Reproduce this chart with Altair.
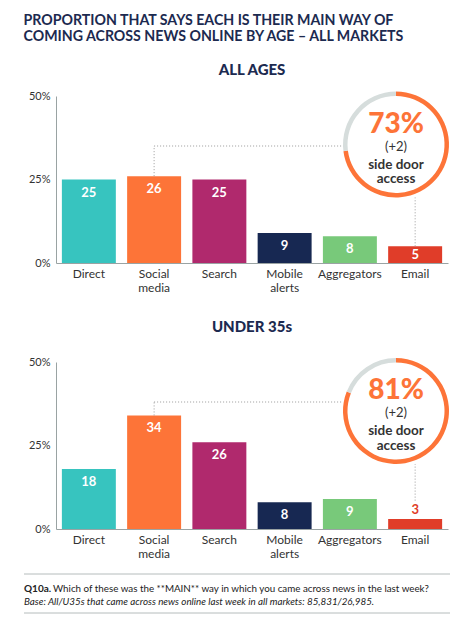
import altair as alt
import pandas as pd

# ---------------- data ----------------
categories = ["Direct", "Social media", "Search", "Mobile alerts", "Aggregators", "Email"]
all_ages = [25, 26, 25, 9, 8, 5]
under_35s = [18, 34, 26, 8, 9, 3]
panel_titles = ["ALL AGES", "UNDER 35s"]
side_door_share = [73, 81]
side_door_change = ["(+2)", "(+2)"]
side_door_text = ["side door", "access"]
y_ticks = [0, 25, 50]
title_lines = ["PROPORTION THAT SAYS EACH IS THEIR MAIN WAY OF",
               "COMING ACROSS NEWS ONLINE BY AGE \u2013 ALL MARKETS"]
footer_bold = "Q10a."
footer_line1 = "Which of these was the **MAIN** way in which you came across news in the last week?"
footer_line2 = "Base: All/U35s that came across news online last week in all markets: 85,831/26,985."

# ---------------- style ----------------
FONT = "Lato"
NAVY = "#1c2a50"
ORANGE = "#fd7438"
RING_GREY = "#d6dddc"
TEXT_GREY = "#333333"
DOT_GREY = "#9a9a9a"
bar_colors = ["#37c4bf", "#fd7438", "#b0296d", "#172852", "#78c97a", "#e03d29"]

W, H = 392, 167
CX, R = 340, 53


def panel(values, share, change, title, cy, conn_y, title_offset, with_footer=False):
    df = pd.DataFrame({"cat": categories, "value": values})
    base = alt.Chart(df)
    x = alt.X("cat:N", sort=categories,
              scale=alt.Scale(paddingInner=0.173, paddingOuter=0.09),
              axis=alt.Axis(title=None, labelAngle=0, ticks=False, domainColor="#9aa3a3",
                            labelFont=FONT, labelFontSize=12, labelColor=TEXT_GREY,
                            labelPadding=5, labelLineHeight=14,
                            labelExpr="split(datum.value, ' ')"))
    y = alt.Y("value:Q", scale=alt.Scale(domain=[0, 50], nice=False),
              axis=alt.Axis(title=None, values=y_ticks, ticks=False, grid=False,
                            domainColor="#9aa3a3", labelFont=FONT, labelFontSize=11,
                            labelColor=TEXT_GREY, labelPadding=6,
                            labelExpr="datum.value + '%'"))
    bars = base.mark_bar().encode(
        x=x, y=y,
        color=alt.Color("cat:N", sort=categories,
                        scale=alt.Scale(domain=categories, range=bar_colors), legend=None))
    labels = base.transform_calculate(
        ypos="datum.value >= 4 ? datum.value - min(3.9, datum.value / 2) : datum.value + 2.8"
    ).mark_text(font=FONT, fontSize=13, fontWeight="bold", baseline="middle").encode(
        x=alt.X("cat:N", sort=categories),
        y=alt.Y("ypos:Q"),
        text="value:Q",
        color=alt.condition("datum.value >= 4", alt.value("white"), alt.value("#e03d29")))

    # connectors
    social = base.transform_filter("datum.cat == 'Social media'")
    v_social = social.mark_rule(strokeDash=[1, 2], color=DOT_GREY, strokeWidth=1).encode(
        x=alt.X("cat:N", sort=categories), y="value:Q", y2=alt.value(conn_y))
    h_social = social.mark_rule(strokeDash=[1, 2], color=DOT_GREY, strokeWidth=1).encode(
        x=alt.X("cat:N", sort=categories), x2=alt.value(CX - R), y=alt.value(conn_y))
    email = base.transform_filter("datum.cat == 'Email'").transform_calculate(
        end="datum.value >= 4 ? datum.value : datum.value + 5.5")
    v_email = email.mark_rule(strokeDash=[1, 2], color=DOT_GREY, strokeWidth=1).encode(
        x=alt.X("cat:N", sort=categories), y="end:Q", y2=alt.value(cy + R))

    # ring
    ring_df = pd.DataFrame({"part": ["side", "rest"], "v": [share, 100 - share], "k": [0, 1]})
    ring = alt.Chart(ring_df).mark_arc(radius=R, radius2=R - 4.5).encode(
        theta=alt.Theta("v:Q", stack=True),
        order=alt.Order("k:Q"),
        color=alt.condition("datum.part == 'side'", alt.value(ORANGE), alt.value(RING_GREY)),
        x=alt.value(CX), y=alt.value(cy))
    big = alt.Chart(pd.DataFrame({"t": [f"{share}%"]})).mark_text(
        font=FONT, fontSize=28, fontWeight=900, color=ORANGE, baseline="middle").encode(
        text="t:N", x=alt.value(CX), y=alt.value(cy - 20))
    chg = alt.Chart(pd.DataFrame({"t": [change]})).mark_text(
        font=FONT, fontSize=13, color=TEXT_GREY, baseline="middle").encode(
        text="t:N", x=alt.value(CX), y=alt.value(cy + 2))
    sd1 = alt.Chart(pd.DataFrame({"t": [side_door_text[0]]})).mark_text(
        font=FONT, fontSize=13.5, fontWeight="bold", color=TEXT_GREY, baseline="middle").encode(
        text="t:N", x=alt.value(CX), y=alt.value(cy + 20))
    sd2 = alt.Chart(pd.DataFrame({"t": [side_door_text[1]]})).mark_text(
        font=FONT, fontSize=13.5, fontWeight="bold", color=TEXT_GREY, baseline="middle").encode(
        text="t:N", x=alt.value(CX), y=alt.value(cy + 34.5))

    layers = [bars, labels, v_social, h_social, v_email, ring, big, chg, sd1, sd2]

    if with_footer:
        rule_df = pd.DataFrame({"r": [0]})
        top_rule = alt.Chart(rule_df).mark_rule(color="#b5bcbc", strokeWidth=1).encode(
            x=alt.value(-32), x2=alt.value(394), y=alt.value(212))
        bot_rule = alt.Chart(rule_df).mark_rule(color="#b5bcbc", strokeWidth=1).encode(
            x=alt.value(-32), x2=alt.value(394), y=alt.value(251))
        fb = alt.Chart(pd.DataFrame({"t": [footer_bold]})).mark_text(
            font=FONT, fontSize=10, fontWeight="bold", color="#222222", align="left",
            baseline="middle").encode(text="t:N", x=alt.value(-32), y=alt.value(227))
        f1 = alt.Chart(pd.DataFrame({"t": [footer_line1]})).mark_text(
            font=FONT, fontSize=9.8, color="#222222", align="left",
            baseline="middle").encode(text="t:N", x=alt.value(-3), y=alt.value(227))
        f2 = alt.Chart(pd.DataFrame({"t": [footer_line2]})).mark_text(
            font=FONT, fontSize=9.8, fontStyle="italic", color="#222222", align="left",
            baseline="middle").encode(text="t:N", x=alt.value(-32), y=alt.value(240))
        layers += [top_rule, bot_rule, fb, f1, f2]

    return alt.layer(*layers).properties(
        width=W, height=H,
        title=alt.TitleParams(title, font=FONT, fontSize=15, fontWeight=900, color=NAVY,
                              anchor="middle", offset=title_offset))


p1 = panel(all_ages, side_door_share[0], side_door_change[0], panel_titles[0],
           cy=48.5, conn_y=50, title_offset=12)
p2 = panel(under_35s, side_door_share[1], side_door_change[1], panel_titles[1],
           cy=49, conn_y=40, title_offset=21, with_footer=True)

chart = alt.vconcat(p1, p2, spacing=27).properties(
    title=alt.TitleParams(title_lines, font=FONT, fontSize=14.2, fontWeight="bold",
                          color=NAVY, anchor="start", offset=19, lineHeight=16),
    padding={"left": 15, "top": 5, "right": 5, "bottom": 5},
).configure_view(stroke=None)

chart.save("out.html", embed_options={"renderer": "svg", "actions": False})
